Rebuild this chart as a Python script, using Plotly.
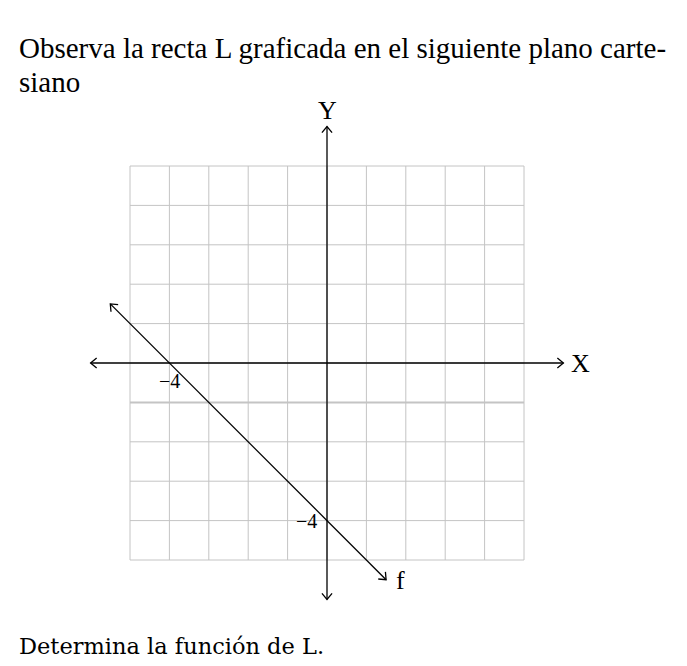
import numpy as np
import plotly.graph_objects as go

# data
grid_ticks = list(range(-5, 6))
axis_limits = [-6, 6]
line_x = [-5.5, 1.5]
line_y = [1.5, -5.5]   # recta L: y = -x - 4
x_intercept = -4
y_intercept = -4
tick_labels = ["\u22124", "\u22124"]
line_name = "f"
title_lines = ["Observa la recta L graficada en el siguiente plano carte-", "siano"]
footer_text = "Determina la funci\u00f3n de L."

W, H = 671, 650
ox, oy, s = 319, 355, 39.4
xr = [-ox / s, (W - ox) / s]
yr = [-(H - oy) / s, oy / s]

fig = go.Figure()

shapes = []
for t in grid_ticks:
    shapes.append(dict(type="line", x0=t, x1=t, y0=grid_ticks[0], y1=grid_ticks[-1],
                       line=dict(color="#c4c4c4", width=1), layer="below"))
    shapes.append(dict(type="line", y0=t, y1=t, x0=grid_ticks[0], x1=grid_ticks[-1],
                       line=dict(color="#c4c4c4", width=2 if t == -1 else 1), layer="below"))

def add_seg(x, y):
    fig.add_trace(go.Scatter(x=x, y=y, mode="lines", line=dict(color="black", width=1.3),
                             hoverinfo="skip", showlegend=False))

def arrow_head(xe, ye, dx, dy):
    n = np.hypot(dx, dy)
    ux, uy = dx / n, dy / n
    L = 0.2
    ang = np.radians(40)
    pts = []
    for sgn in (1, -1):
        c, sn = np.cos(sgn * ang), np.sin(sgn * ang)
        bx = -(ux * c - uy * sn)
        by = -(ux * sn + uy * c)
        pts.append((xe + L * bx, ye + L * by))
    add_seg([pts[0][0], xe, pts[1][0]], [pts[0][1], ye, pts[1][1]])

# axes
add_seg(axis_limits, [0, 0])
arrow_head(axis_limits[1], 0, 1, 0)
arrow_head(axis_limits[0], 0, -1, 0)
add_seg([0, 0], axis_limits)
arrow_head(0, axis_limits[1], 0, 1)
arrow_head(0, axis_limits[0], 0, -1)

# line L
add_seg(line_x, line_y)
arrow_head(line_x[0], line_y[0], line_x[0] - line_x[1], line_y[0] - line_y[1])
arrow_head(line_x[1], line_y[1], line_x[1] - line_x[0], line_y[1] - line_y[0])

serif = "Liberation Serif"
ann = [
    dict(x=x_intercept, y=-0.45, text=tick_labels[0], showarrow=False, xanchor="center", yanchor="middle",
         font=dict(family=serif, size=20, color="black")),
    dict(x=-0.2, y=y_intercept, text=tick_labels[1], showarrow=False, xanchor="right", yanchor="middle",
         font=dict(family=serif, size=20, color="black")),
    dict(x=line_x[1] + 0.2, y=line_y[1] - 0.03, text=line_name, showarrow=False, xanchor="left", yanchor="middle",
         font=dict(family=serif, size=26, color="black")),
    dict(x=axis_limits[1] + 0.15, y=0, text="X", showarrow=False, xanchor="left", yanchor="middle",
         font=dict(family=serif, size=26, color="black")),
    dict(x=0, y=axis_limits[1] + 0.4, text="Y", showarrow=False, xanchor="center", yanchor="middle",
         font=dict(family=serif, size=26, color="black")),
    dict(x=9, y=39.5, xref="paper", yref="paper", text=title_lines[0], showarrow=False, align="left",
         xanchor="left", yanchor="middle", font=dict(family=serif, size=29, color="black")),
    dict(x=9, y=73.5, xref="paper", yref="paper", text=title_lines[1], showarrow=False, align="left",
         xanchor="left", yanchor="middle", font=dict(family=serif, size=29, color="black")),
    dict(x=9, y=637.5, xref="paper", yref="paper", text=footer_text, showarrow=False, align="left",
         xanchor="left", yanchor="middle", font=dict(family="DejaVu Serif", size=22.5, color="black")),
]
for a in ann:
    if a.get("xref") == "paper":
        a["x"] = a["x"] / W
        a["y"] = 1 - a["y"] / H

fig.update_layout(
    width=W, height=H, autosize=False,
    margin=dict(l=0, r=0, t=0, b=0),
    paper_bgcolor="white", plot_bgcolor="white",
    xaxis=dict(range=xr, visible=False, fixedrange=True),
    yaxis=dict(range=yr, visible=False, fixedrange=True),
    shapes=shapes, annotations=ann,
)
fig.write_html("out.html")
